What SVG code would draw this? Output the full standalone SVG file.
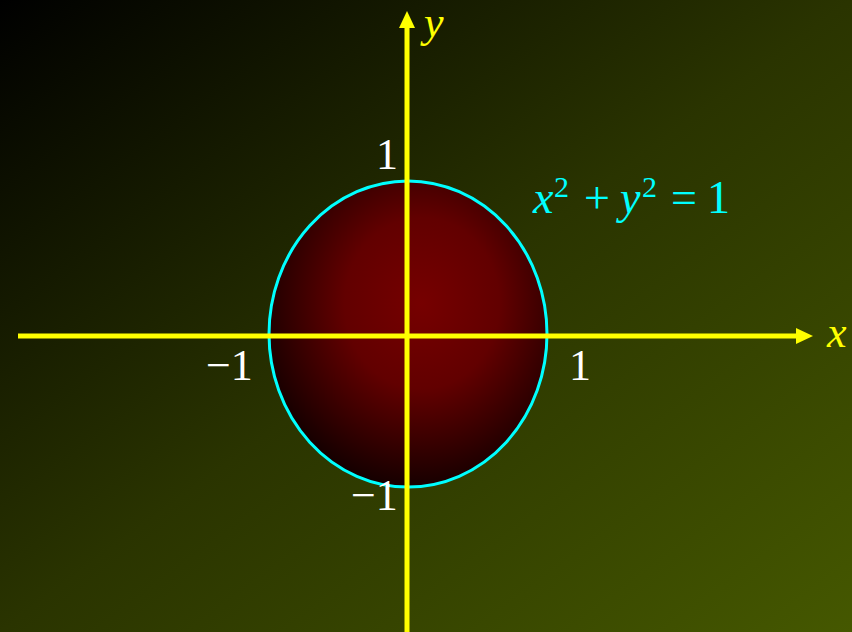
<svg xmlns="http://www.w3.org/2000/svg" width="852" height="632" viewBox="0 0 852 632">
  <defs>
    <linearGradient id="bg" x1="0" y1="0" x2="1" y2="1">
      <stop offset="0" stop-color="#000000"/>
      <stop offset="0.5" stop-color="#2a3400"/>
      <stop offset="1" stop-color="#455800"/>
    </linearGradient>
    <radialGradient id="disk" cx="0.55" cy="0.4" r="0.62">
      <stop offset="0" stop-color="#760000"/>
      <stop offset="0.45" stop-color="#620000"/>
      <stop offset="1" stop-color="#120000"/>
    </radialGradient>
    <style>
      .num { font-family: "Liberation Serif", "Times New Roman", serif; font-size: 44px; fill: #ffffff; }
      .lab { font-family: "Liberation Serif", "Times New Roman", serif; font-size: 44px; font-style: italic; fill: #ffff00; }
      .eq { font-family: "Liberation Serif", "Times New Roman", serif; font-size: 46px; fill: #00ffff; }
      .axis { stroke: #ffff00; stroke-width: 5; fill: none; }
      .head { fill: #ffff00; }
    </style>
  </defs>
  <rect x="0" y="0" width="852" height="632" fill="url(#bg)"/>
  <g id="circle">
    <ellipse cx="408" cy="334" rx="139" ry="153" fill="url(#disk)" stroke="#00ffff" stroke-width="3"/>
  </g>
  <g id="connectors">
    <line class="axis" x1="18" y1="336" x2="798" y2="336"/>
    <polygon class="head" points="813,336 796,328 796,344"/>
    <line class="axis" x1="407" y1="632" x2="407" y2="25"/>
    <polygon class="head" points="407,11 399,28 415,28"/>
  </g>
  <g id="x-label"><text class="lab" x="827" y="347">x</text></g>
  <g id="y-label"><text class="lab" x="424" y="37" font-size="40">y</text></g>
  <g id="ticks">
    <text class="num" x="376" y="169">1</text>
    <text class="num" x="206" y="380">−1</text>
    <text class="num" x="569" y="380">1</text>
    <text class="num" x="351" y="510">−1</text>
  </g>
  <g id="equation">
    <text class="eq" y="213"><tspan x="533" font-style="italic">x</tspan><tspan x="554" y="197" font-size="30">2</tspan><tspan x="584" y="213">+</tspan><tspan x="620" font-style="italic">y</tspan><tspan x="642" y="197" font-size="30">2</tspan><tspan x="671" y="213">=</tspan><tspan x="707">1</tspan></text>
  </g>
</svg>
